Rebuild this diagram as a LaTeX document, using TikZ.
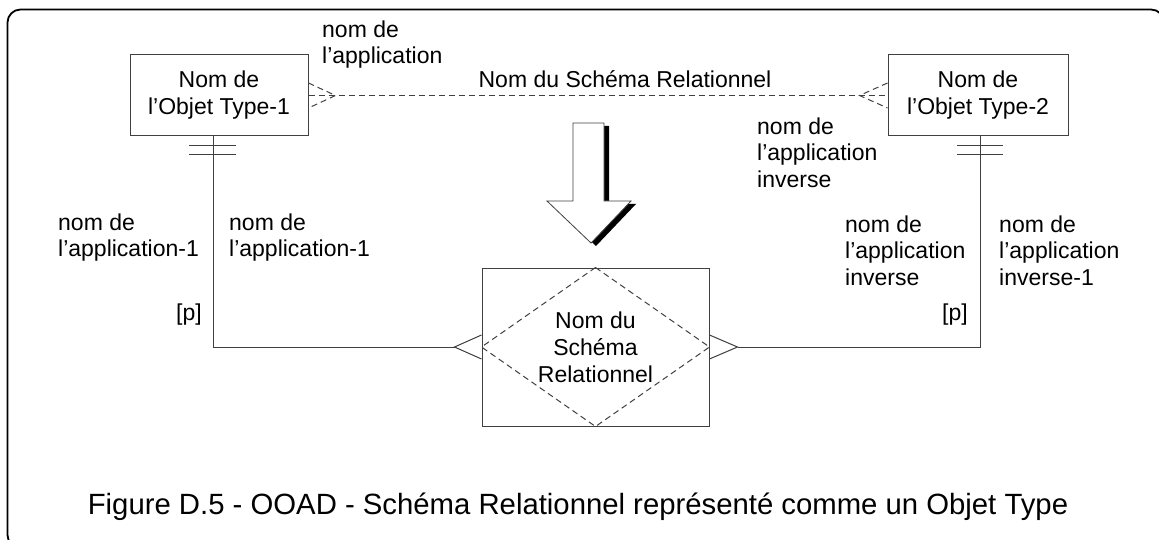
\documentclass[tikz,border=0pt]{standalone}
\usepackage{fontspec}
\setmainfont{Liberation Sans}
\usetikzlibrary{calc}
\newcommand{\lbfont}{\fontsize{23}{26.5}\selectfont}
\newcommand{\bxfont}{\fontsize{23}{27}\selectfont}
\newcommand{\capfont}{\fontsize{29.3}{34}\selectfont}
\tikzset{
  conn/.style={draw=black!75, line width=1pt},
  dconn/.style={conn, dash pattern=on 6pt off 4pt},
  obox/.style={draw=black!75, line width=1pt, inner sep=0pt, align=center, font=\bxfont},
  lbl/.style={inner sep=0pt, align=left, font=\lbfont, anchor=north west},
}
\begin{document}
\begin{tikzpicture}[x=1pt,y=-1pt]
\useasboundingbox (0,0) rectangle (1159,540);
\begin{scope}
\clip (0,0) rectangle (1159,540);
\draw[line width=1.8pt, rounded corners=13pt] (7.5,9.5) rectangle (1164,548);
\end{scope}

% object boxes
\node[obox, minimum width=178pt, minimum height=81pt] (box1) at (219,95.5) {Nom de\\l’Objet Type-1};
\node[obox, minimum width=180pt, minimum height=81pt] (box2) at (978,95.5) {Nom de\\l’Objet Type-2};
\node[obox, minimum width=227pt, minimum height=158pt] (rel) at (595.5,347) {Nom du\\Schéma\\Relationnel};
\draw[dconn] (rel.north) -- (rel.east) -- (rel.south) -- (rel.west) -- cycle;

% dashed relationship between object types
\draw[dconn] (box1.east) -- (box2.west);
\draw[dconn] ($(box1.east)+(0,-12.5)$) -- ($(box1.east)+(27,0)$) -- ($(box1.east)+(0,12.5)$);
\draw[dconn] ($(box2.west)+(0,-12.5)$) -- ($(box2.west)+(-28,0)$) -- ($(box2.west)+(0,12.5)$);

% left connector
\coordinate (cfL) at ($(rel.west)+(-27,0)$);
\coordinate (sL) at ($(box1.south)+(-6,0)$);
\draw[conn] (sL) |- (cfL);
\draw[conn] ($(rel.west)+(0,-12)$) -- (cfL) -- ($(rel.west)+(0,12)$);
\draw[conn] ($(sL)+(-24,9)$) -- ($(sL)+(23,9)$);
\draw[conn] ($(sL)+(-24,18)$) -- ($(sL)+(23,18)$);

% right connector
\coordinate (cfR) at ($(rel.east)+(28,0)$);
\coordinate (sR) at ($(box2.south)+(2,0)$);
\draw[conn] (cfR) -| (sR);
\draw[conn] ($(rel.east)+(0,-12)$) -- (cfR) -- ($(rel.east)+(0,12)$);
\draw[conn] ($(sR)+(-23,9)$) -- ($(sR)+(23,9)$);
\draw[conn] ($(sR)+(-23,18)$) -- ($(sR)+(23,18)$);

% big arrow with shadow
\fill[black] ([shift={(5,3)}]573,123) -- ([shift={(5,3)}]604,123) -- ([shift={(5,3)}]604,201) -- ([shift={(5,3)}]631,201) -- ([shift={(5,3)}]591,243) -- ([shift={(5,3)}]547,201) -- ([shift={(5,3)}]573,201) -- cycle;
\filldraw[fill=white, draw=black!75, line width=0.8pt] (573,123) -- (604,123) -- (604,201) -- (631,201) -- (591,243) -- (547,201) -- (573,201) -- cycle;

% labels
\node[lbl] (l1) at (322,20.2) {nom de\\l’application};
\node[font=\lbfont, inner sep=0pt, anchor=base] (l2) at (625,88) {Nom du Schéma Relationnel};
\node[lbl] (l3) at (757,117.2) {nom de\\l’application\\inverse};
\node[lbl] (l4) at (58,213.2) {nom de\\l’application-1};
\node[lbl] (l5) at (229,213.2) {nom de\\l’application-1};
\node[font=\lbfont, inner sep=0pt, anchor=base east] (p1) at (202,320) {[p]};
\node[lbl] (l6) at (845,215.2) {nom de\\l’application\\inverse};
\node[lbl] (l7) at (999,215.2) {nom de\\l’application\\inverse-1};
\node[font=\lbfont, inner sep=0pt, anchor=base east] (p2) at (968,320) {[p]};

% caption
\node[font=\capfont, inner sep=0pt, anchor=base] (cap) at (578,514) {Figure D.5 - OOAD - Schéma Relationnel représenté comme un Objet Type};
\end{tikzpicture}
\end{document}
